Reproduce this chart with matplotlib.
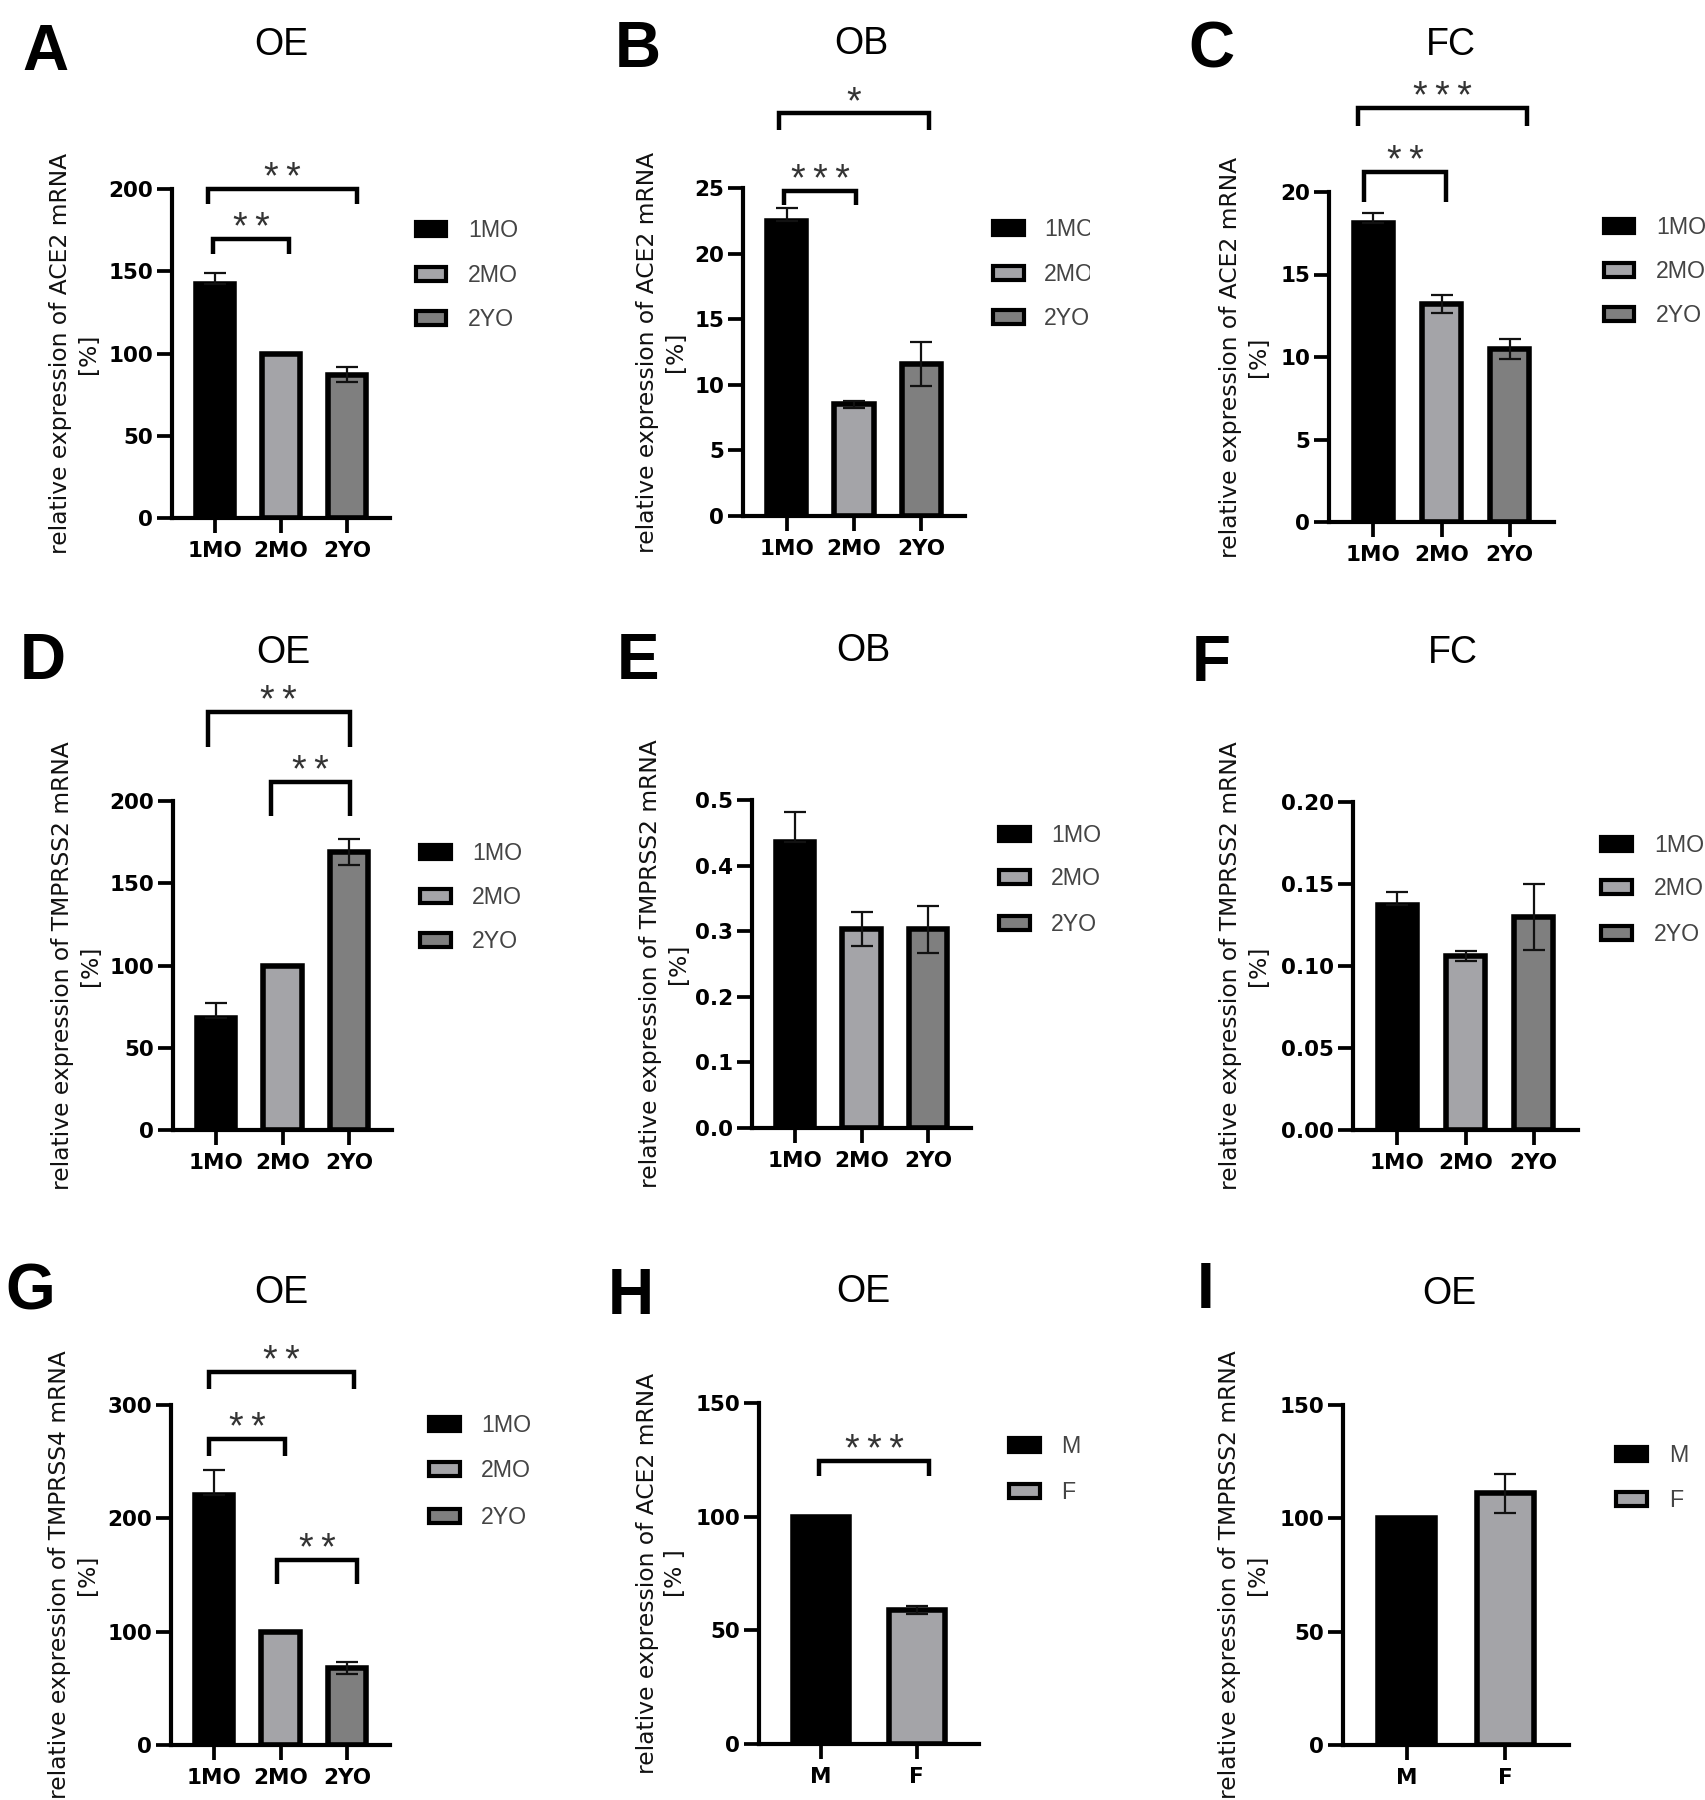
import numpy as np
import matplotlib.pyplot as plt
from matplotlib.patches import Rectangle
from matplotlib.transforms import Bbox, TransformedBbox

# figure size in pixels
W, H = 1705, 1800

# ---- data ----
ages = ['1MO', '2MO', '2YO']
sexes = ['M', 'F']
age_colors = ['#000000', '#a4a4a8', '#7f7f7f']
sex_colors = ['#000000', '#a4a4a8']

# ACE2 (A-C)
ace2_oe = [142, 100, 87]
ace2_oe_err = [7, 0, 4.5]
ace2_ob = [22.5, 8.5, 11.6]
ace2_ob_err = [1.0, 0.3, 1.7]
ace2_fc = [18.1, 13.2, 10.5]
ace2_fc_err = [0.6, 0.55, 0.6]

# TMPRSS2 (D-F)
tmprss2_oe = [68, 100, 169]
tmprss2_oe_err = [9, 0, 8]
tmprss2_ob = [0.436, 0.303, 0.303]
tmprss2_ob_err = [0.045, 0.026, 0.036]
tmprss2_fc = [0.137, 0.106, 0.130]
tmprss2_fc_err = [0.008, 0.003, 0.020]

# TMPRSS4 (G)
tmprss4_oe = [221, 100, 68]
tmprss4_oe_err = [22, 0, 5]

# sex comparison (H, I)
ace2_sex = [100, 59]
ace2_sex_err = [0, 1.8]
tmprss2_sex = [100, 111]
tmprss2_sex_err = [0, 8.7]

# significance brackets: (x1, x2, line y, leg end y, stars)
brackets_a = [(-0.1, 2.15, 200, 191, '**'), (-0.03, 1.12, 169.4, 160.4, '**')]
brackets_b = [(-0.11, 2.11, 30.7, 29.4, '*'), (-0.04, 1.03, 24.8, 23.7, '***')]
brackets_c = [(-0.23, 2.25, 25.1, 24.0, '***'), (-0.13, 1.07, 21.2, 19.4, '**')]
brackets_d = [(-0.13, 2.02, 254, 232.7, '**'), (0.83, 2.02, 211.3, 191, '**')]
brackets_g = [(-0.07, 2.1, 329.4, 313.7, '**'), (-0.07, 1.07, 269.6, 254.9, '**'),
              (0.95, 2.16, 163.4, 142.2, '**')]
brackets_h = [(-0.02, 1.125, 124.5, 118, '***')]

lab_ace2 = 'relative expression of ACE2 mRNA\n[%]'
lab_tmp2 = 'relative expression of TMPRSS2 mRNA\n[%]'
lab_tmp4 = 'relative expression of TMPRSS4 mRNA\n[%]'

panels = [
    dict(letter='A', title='OE', cats=ages, colors=age_colors, vals=ace2_oe, errs=ace2_oe_err,
         yticks=[0, 50, 100, 150, 200], fmt='{:.0f}', ylabel=lab_ace2, brackets=brackets_a),
    dict(letter='B', title='OB', cats=ages, colors=age_colors, vals=ace2_ob, errs=ace2_ob_err,
         yticks=[0, 5, 10, 15, 20, 25], fmt='{:.0f}', ylabel=lab_ace2, brackets=brackets_b),
    dict(letter='C', title='FC', cats=ages, colors=age_colors, vals=ace2_fc, errs=ace2_fc_err,
         yticks=[0, 5, 10, 15, 20], fmt='{:.0f}', ylabel=lab_ace2, brackets=brackets_c),
    dict(letter='D', title='OE', cats=ages, colors=age_colors, vals=tmprss2_oe, errs=tmprss2_oe_err,
         yticks=[0, 50, 100, 150, 200], fmt='{:.0f}', ylabel=lab_tmp2, brackets=brackets_d),
    dict(letter='E', title='OB', cats=ages, colors=age_colors, vals=tmprss2_ob, errs=tmprss2_ob_err,
         yticks=[0, 0.1, 0.2, 0.3, 0.4, 0.5], fmt='{:.1f}', ylabel=lab_tmp2, brackets=[]),
    dict(letter='F', title='FC', cats=ages, colors=age_colors, vals=tmprss2_fc, errs=tmprss2_fc_err,
         yticks=[0, 0.05, 0.10, 0.15, 0.20], fmt='{:.2f}', ylabel=lab_tmp2, brackets=[]),
    dict(letter='G', title='OE', cats=ages, colors=age_colors, vals=tmprss4_oe, errs=tmprss4_oe_err,
         yticks=[0, 100, 200, 300], fmt='{:.0f}', ylabel=lab_tmp4, brackets=brackets_g),
    dict(letter='H', title='OE', cats=sexes, colors=sex_colors, vals=ace2_sex, errs=ace2_sex_err,
         yticks=[0, 50, 100, 150], fmt='{:.0f}', ylabel='relative expression of ACE2 mRNA\n[% ]',
         brackets=brackets_h),
    dict(letter='I', title='OE', cats=sexes, colors=sex_colors, vals=tmprss2_sex, errs=tmprss2_sex_err,
         yticks=[0, 50, 100, 150], fmt='{:.0f}', ylabel=lab_tmp2, brackets=[]),
]

# ---- layout in pixels: axes box (left, right, top, bottom), letter, title, ylabel, legend ----
layout = {
    'A': dict(box=(172, 390, 189, 518), letter=(22, 70), title=(281, 55), ylab_x=100,
              leg=(414, 448, 468, [229, 274, 318])),
    'B': dict(box=(743, 965, 188, 516), letter=(615, 67), title=(861, 54), ylab_x=687,
              leg=(991, 1026, 1044, [228, 273, 317]), clip=1090),
    'C': dict(box=(1329, 1554, 192, 522), letter=(1188, 67), title=(1451, 55), ylab_x=1270,
              leg=(1602, 1636, 1656, [226, 270, 314])),
    'D': dict(box=(173, 392, 801, 1130), letter=(20, 679), title=(283, 663), ylab_x=102,
              leg=(418, 453, 472, [852, 896, 940])),
    'E': dict(box=(752, 971, 800, 1128), letter=(617, 679), title=(863, 661), ylab_x=690,
              leg=(997, 1032, 1051, [834, 877, 923])),
    'F': dict(box=(1353, 1578, 802, 1130), letter=(1192, 681), title=(1453, 663), ylab_x=1270,
              leg=(1599, 1634, 1654, [844, 887, 933])),
    'G': dict(box=(171, 390, 1405, 1745), letter=(5, 1310), title=(281, 1303), ylab_x=99,
              leg=(427, 462, 481, [1424, 1469, 1516])),
    'H': dict(box=(759, 979, 1403, 1744), letter=(608, 1314), title=(863, 1302), ylab_x=687,
              leg=(1007, 1042, 1061, [1445, 1491])),
    'I': dict(box=(1343, 1569, 1405, 1745), letter=(1197, 1308), title=(1449, 1304), ylab_x=1269,
              leg=(1614, 1649, 1669, [1454, 1499])),
}


def fx(x):
    return x / W


def fy(y):
    return 1 - y / H


fig = plt.figure(figsize=(W / 100, H / 100), dpi=100)

for p in panels:
    lay = layout[p['letter']]
    l, r, t, b = lay['box']
    ax = fig.add_axes([fx(l), fy(b), (r - l) / W, (b - t) / H])
    n = len(p['cats'])
    x = np.arange(n)

    ax.bar(x, p['vals'], width=0.58, color=p['colors'], edgecolor='black', linewidth=4, zorder=2)

    # error bars; the lower half is hidden inside black bars
    errs = np.array(p['errs'], dtype=float)
    lower = np.array([0 if c == '#000000' else e for c, e in zip(p['colors'], errs)])
    keep = errs > 0
    ax.errorbar(x[keep], np.array(p['vals'])[keep], yerr=[lower[keep], errs[keep]], fmt='none',
                ecolor='#111111', elinewidth=1.6, capsize=8, capthick=1.6, zorder=3)

    ax.set_xlim(-0.65, n - 0.35)
    ax.set_ylim(0, p['yticks'][-1])
    ax.set_yticks(p['yticks'])
    ax.set_yticklabels([p['fmt'].format(v) for v in p['yticks']])
    ax.set_xticks(x)
    ax.set_xticklabels(p['cats'])
    for s in ['top', 'right']:
        ax.spines[s].set_visible(False)
    for s in ['left', 'bottom']:
        ax.spines[s].set_linewidth(3)
    ax.tick_params(axis='both', width=2.7, length=10.5, labelsize=15.5, colors='black')
    ax.tick_params(axis='y', pad=3)
    ax.tick_params(axis='x', pad=6)
    for lab in ax.get_xticklabels() + ax.get_yticklabels():
        lab.set_fontfamily('DejaVu Sans')
        lab.set_fontweight('bold')

    # significance brackets
    for x1, x2, y, leg, stars in p['brackets']:
        ax.plot([x1, x1, x2, x2], [leg, y, y, leg], color='black', lw=3.2, clip_on=False,
                solid_joinstyle='miter', solid_capstyle='butt', zorder=4)
        ax.annotate('\u2009'.join(stars), xy=((x1 + x2) / 2, y), xytext=(0, 0),
                    textcoords='offset points', ha='center', va='baseline', fontsize=27,
                    family=['Liberation Sans', 'DejaVu Sans'], color='#333333',
                    annotation_clip=False)

    # panel letter, title, y label
    fig.text(fx(lay['letter'][0]), fy(lay['letter'][1]), p['letter'], fontsize=46,
             fontweight='bold', family='Liberation Sans', ha='left', va='baseline')
    fig.text(fx(lay['title'][0]), fy(lay['title'][1]), p['title'], fontsize=27,
             family='Liberation Sans', ha='center', va='baseline')
    fig.text(fx(lay['ylab_x']), fy((t + b) / 2), p['ylabel'], rotation=90, ha='right', va='center',
             multialignment='center', fontsize=16.8, family='DejaVu Sans', color='#111111',
             linespacing=1.3)

    # legend
    x0, x1, xt, rows = lay['leg']
    for cat, col, yr in zip(p['cats'], p['colors'], rows):
        rect = Rectangle((fx(x0 + 2), fy(yr + 7)), (x1 - x0 - 4) / W, 14 / H, transform=fig.transFigure,
                         facecolor=col, edgecolor='black', linewidth=3)
        fig.add_artist(rect)
        txt = fig.text(fx(xt), fy(yr + 8.3), cat, fontsize=16.7, family='Liberation Sans',
                       color='#444444', ha='left', va='baseline')
        if 'clip' in lay:
            txt.set_clip_box(TransformedBbox(Bbox.from_extents(0, 0, fx(lay['clip']), 1),
                                             fig.transFigure))

fig.savefig('out.png', dpi=100, facecolor='white')
